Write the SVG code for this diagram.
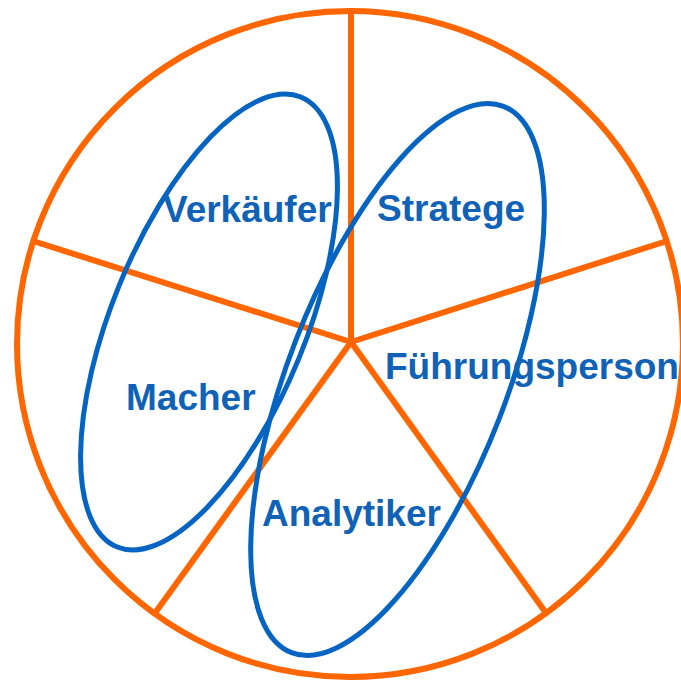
<svg xmlns="http://www.w3.org/2000/svg" width="681" height="680" viewBox="0 0 681 680">
<style>
.o{fill:none;stroke:#FF6600;stroke-width:6}
.e{fill:none;stroke:#0563C1;stroke-width:5}
.t{font-family:"Liberation Sans",Arial,sans-serif;font-weight:bold;font-size:37px;fill:#0F62B6}
</style>
<rect width="681" height="680" fill="#ffffff"/>
<g id="wheel">
<circle class="o" cx="350" cy="344" r="333"/>
</g>
<g id="connectors">
<line class="o" x1="351" y1="342" x2="351" y2="11"/>
<line class="o" x1="351" y1="342" x2="667" y2="241"/>
<line class="o" x1="351" y1="342" x2="546" y2="613"/>
<line class="o" x1="351" y1="342" x2="155" y2="613"/>
<line class="o" x1="351" y1="342" x2="33" y2="241"/>
</g>
<g id="ellipse-left">
<ellipse class="e" cx="0" cy="0" rx="97" ry="243" transform="translate(209,322) rotate(22.2)"/>
</g>
<g id="ellipse-right">
<ellipse class="e" cx="0" cy="0" rx="109" ry="293" transform="translate(397.5,379.5) rotate(21.2)"/>
</g>
<g id="verkaeufer"><text class="t" x="163" y="222">Verkäufer</text></g>
<g id="stratege"><text class="t" x="377" y="221">Stratege</text></g>
<g id="fuehrungsperson"><text class="t" x="385" y="379">Führungsperson</text></g>
<g id="macher"><text class="t" x="126" y="410">Macher</text></g>
<g id="analytiker"><text class="t" x="262" y="526">Analytiker</text></g>
</svg>
